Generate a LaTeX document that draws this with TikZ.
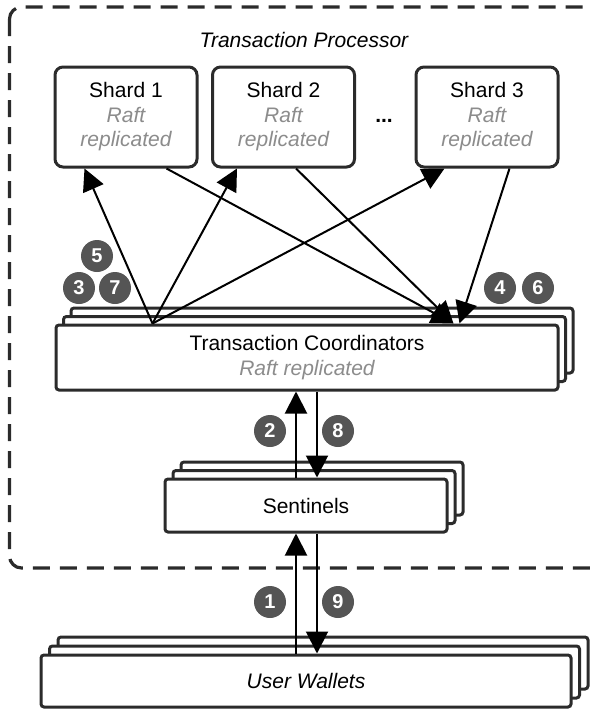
\documentclass[tikz,border=0pt]{standalone}
\usepackage{fontspec}
\setmainfont{Liberation Sans}
\usetikzlibrary{arrows.meta,calc}
\definecolor{edgegray}{HTML}{2B2B2B}
\definecolor{badgefill}{HTML}{555555}
\definecolor{subgray}{HTML}{8C8C8C}
\newcommand{\subtxt}[1]{\textcolor{subgray}{\itshape #1}}
\begin{document}
\begin{tikzpicture}[x=1pt,y=-1pt,
  box/.style={draw=edgegray, line width=3pt, fill=white, rounded corners=3pt, inner sep=0pt},
  shardbox/.style={box, rounded corners=8pt, minimum width=142pt, minimum height=100pt, align=center, font=\fontsize{21}{24.5}\selectfont},
  tcbox/.style={box, minimum width=502pt, minimum height=65pt},
  senbox/.style={box, minimum width=282pt, minimum height=53pt},
  walbox/.style={box, minimum width=530pt, minimum height=52pt},
  lbl/.style={align=center, font=\fontsize{21}{26}\selectfont},
  arr/.style={-{Triangle[length=22pt,width=22pt]}, line width=2pt},
  badge/.style={circle, fill=badgefill, minimum size=32pt, inner sep=0pt, text=white, font=\fontsize{20}{20}\selectfont\bfseries},
]
\useasboundingbox (0,0) rectangle (590,710);
% container
\begin{scope}
\clip (0,0) rectangle (590,710);
\draw[edgegray, line width=3.2pt, dash pattern=on 17pt off 10pt, rounded corners=12pt] (9.5,7) rectangle (640,568);
\end{scope}
\node[font=\fontsize{21}{25}\selectfont\itshape] (title) at (304,40) {Transaction Processor};
% shards
\node[shardbox] (s1) at (126,117) {Shard 1\\\subtxt{Raft}\\\subtxt{replicated}};
\node[shardbox] (s2) at (283.5,117) {Shard 2\\\subtxt{Raft}\\\subtxt{replicated}};
\node[shardbox] (s3) at (487,117) {Shard 3\\\subtxt{Raft}\\\subtxt{replicated}};
\node[font=\fontsize{21}{25}\selectfont\bfseries] (dots) at (384,121) {...};
% transaction coordinators
\node[tcbox] (tc3) at (322,340.5) {};
\node[tcbox] (tc2) at (314.5,349) {};
\node[tcbox, lbl] (tc) at (307,357.5) {Transaction Coordinators\\[-1pt]\subtxt{Raft replicated}};
% sentinels
\node[senbox] (sen3) at (322,488.5) {};
\node[senbox] (sen2) at (314,497) {};
\node[senbox, lbl] (sen) at (306,505.5) {Sentinels};
% wallets
\node[walbox] (wal3) at (323,663) {};
\node[walbox] (wal2) at (314.5,672) {};
\node[walbox, lbl, font=\fontsize{21}{26}\selectfont\itshape] (wal) at (306,681) {User Wallets};
% shard arrows
\coordinate (L) at ([xshift=98pt]tc.north west);
\coordinate (R) at ([xshift=399pt]tc.north west);
\coordinate (R3) at ([xshift=405pt]tc.north west);
\draw[arr] (L) -- ([xshift=31pt]s1.south west);
\draw[arr] (L) -- ([xshift=26pt]s2.south west);
\draw[arr] (L) -- ([xshift=30pt]s3.south west);
\draw[arr] ([xshift=113pt]s1.south west) -- (R);
\draw[arr] ([xshift=85pt]s2.south west) -- (R);
\draw[arr] ([xshift=95pt]s3.south west) -- (R3);
% vertical arrows
\draw[arr] ([xshift=-10pt]sen.north) -- ([xshift=-10pt]sen.north |- tc.south);
\draw[arr] ([xshift=11pt]sen.north |- tc.south) -- ([xshift=11pt]sen.north);
\draw[arr] ([xshift=-10pt]wal.north -| sen.north) -- ([xshift=-10pt]sen.south);
\draw[arr] ([xshift=11pt]sen.south) -- ([xshift=11pt]wal.north -| sen.south);
% badges
\node[badge] (b5) at (97,256) {5};
\node[badge] (b3) at (79,288) {3};
\node[badge] (b7) at (115,288) {7};
\node[badge] (b4) at (500,288) {4};
\node[badge] (b6) at (538,288) {6};
\node[badge] (b2) at (270,431) {2};
\node[badge] (b8) at (338,431) {8};
\node[badge] (b1) at (270,602) {1};
\node[badge] (b9) at (338,602) {9};
\end{tikzpicture}
\end{document}
